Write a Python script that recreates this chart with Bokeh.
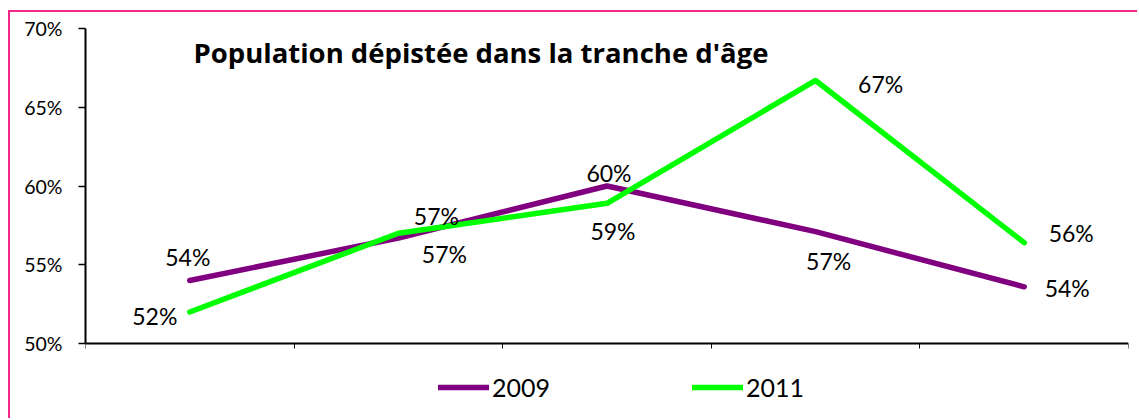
from bokeh.plotting import figure
from bokeh.models import (ColumnDataSource, Range1d, FixedTicker, NumeralTickFormatter,
                          Legend, LegendItem, Label, CustomJSTickFormatter, LinearAxis)
from bokeh.core.properties import value
from bokeh.embed import file_html
from bokeh.resources import INLINE

# ---- data ----
categories = ["1", "2", "3", "4", "5"]
series_2009 = [0.540, 0.567, 0.600, 0.571, 0.536]
series_2011 = [0.520, 0.570, 0.589, 0.667, 0.564]
y_ticks = [0.50, 0.55, 0.60, 0.65, 0.70]
y_min, y_max = 0.50, 0.70
title_text = "Population dépistée dans la tranche d'âge"
legend_labels = ["2009", "2011"]

# label offsets (screen px) for each data label
off_2009_x = [-2, 38, 2, 13, 43]
off_2009_y = [-24, -22, -13, 29, 1]
off_2011_x = [-35, 46, 6, 65, 47]
off_2011_y = [4, 21, 28, 4, -10]

xs = [i + 0.5 for i in range(len(categories))]

FONT = "Lato"
PURPLE = "#800080"
GREEN = "#00FF00"
PINK = "#F0288C"

# geometry (px)
PLOT_H = 315          # height of the 50%..70% band
EXTRA_BELOW = 59      # frame area below the x axis (holds the legend)
y_start = y_min - (y_max - y_min) * EXTRA_BELOW / PLOT_H

p = figure(width=1129, height=408, output_backend="svg", toolbar_location=None,
           x_range=Range1d(0, len(categories)), y_range=Range1d(y_start, y_max),
           x_axis_location=None, y_axis_location=None,
           min_border_left=75, min_border_right=11, min_border_top=16, min_border_bottom=18,
           styles={"border-top": f"2px solid {PINK}", "border-left": f"2px solid {PINK}",
                   "margin-top": "10px", "margin-left": "8px"})
p.background_fill_color = "white"
p.border_fill_color = "white"
p.outline_line_color = None
p.xgrid.visible = False
p.ygrid.visible = False

# y axis
ya = LinearAxis(bounds=(y_min, y_max))
ya.ticker = FixedTicker(ticks=y_ticks)
ya.formatter = NumeralTickFormatter(format="0%")
ya.axis_line_color = "black"
ya.axis_line_width = 2
ya.major_tick_in = 0
ya.major_tick_out = 7
ya.major_tick_line_width = 1.5
ya.minor_tick_line_color = None
ya.major_label_text_font = FONT
ya.major_label_text_font_size = "19.5px"
ya.major_label_text_color = "black"
ya.major_label_standoff = 16
p.add_layout(ya, "left")

# x axis (drawn at 50%)
xa = LinearAxis(fixed_location=y_min)
xa.ticker = FixedTicker(ticks=list(range(len(categories) + 1)))
xa.formatter = CustomJSTickFormatter(code="return ''")
xa.axis_line_color = "black"
xa.axis_line_width = 2
xa.major_tick_in = 0
xa.major_tick_out = 5
xa.major_tick_line_width = 1
xa.minor_tick_line_color = None
xa.major_label_text_font_size = "1px"
p.add_layout(xa, "below")

src09 = ColumnDataSource(dict(x=xs, y=series_2009,
                              lab=[f"{round(v * 100)}%" for v in series_2009],
                              dx=off_2009_x, dy=off_2009_y))
src11 = ColumnDataSource(dict(x=xs, y=series_2011,
                              lab=[f"{round(v * 100)}%" for v in series_2011],
                              dx=off_2011_x, dy=off_2011_y))

r09 = p.line("x", "y", source=src09, line_color=PURPLE, line_width=5.5,
             line_cap="round", line_join="round")
r11 = p.line("x", "y", source=src11, line_color=GREEN, line_width=5.5,
             line_cap="round", line_join="round")

for src in (src09, src11):
    p.text("x", "y", text="lab", source=src, x_offset="dx", y_offset="dy",
           text_font=value(FONT), text_font_size="23px", text_color="black",
           text_align="center", text_baseline="middle")

title = Label(x=108, y=291 + EXTRA_BELOW, x_units="screen", y_units="screen", text=title_text,
              text_font="Open Sans", text_font_style="bold", text_font_size="27.5px",
              text_color="black", text_baseline="alphabetic")
p.add_layout(title)

legend = Legend(items=[LegendItem(label=legend_labels[0], renderers=[r09]),
                       LegendItem(label=legend_labels[1], renderers=[r11])],
                location=(353, 0), orientation="horizontal",
                glyph_width=51, glyph_height=30, label_height=30,
                label_standoff=3, spacing=142, padding=0, margin=0,
                border_line_color=None, background_fill_alpha=0,
                label_text_font=FONT, label_text_font_size="25px",
                label_text_color="black")
p.add_layout(legend)

open("out.html", "w").write(file_html(p, INLINE))
